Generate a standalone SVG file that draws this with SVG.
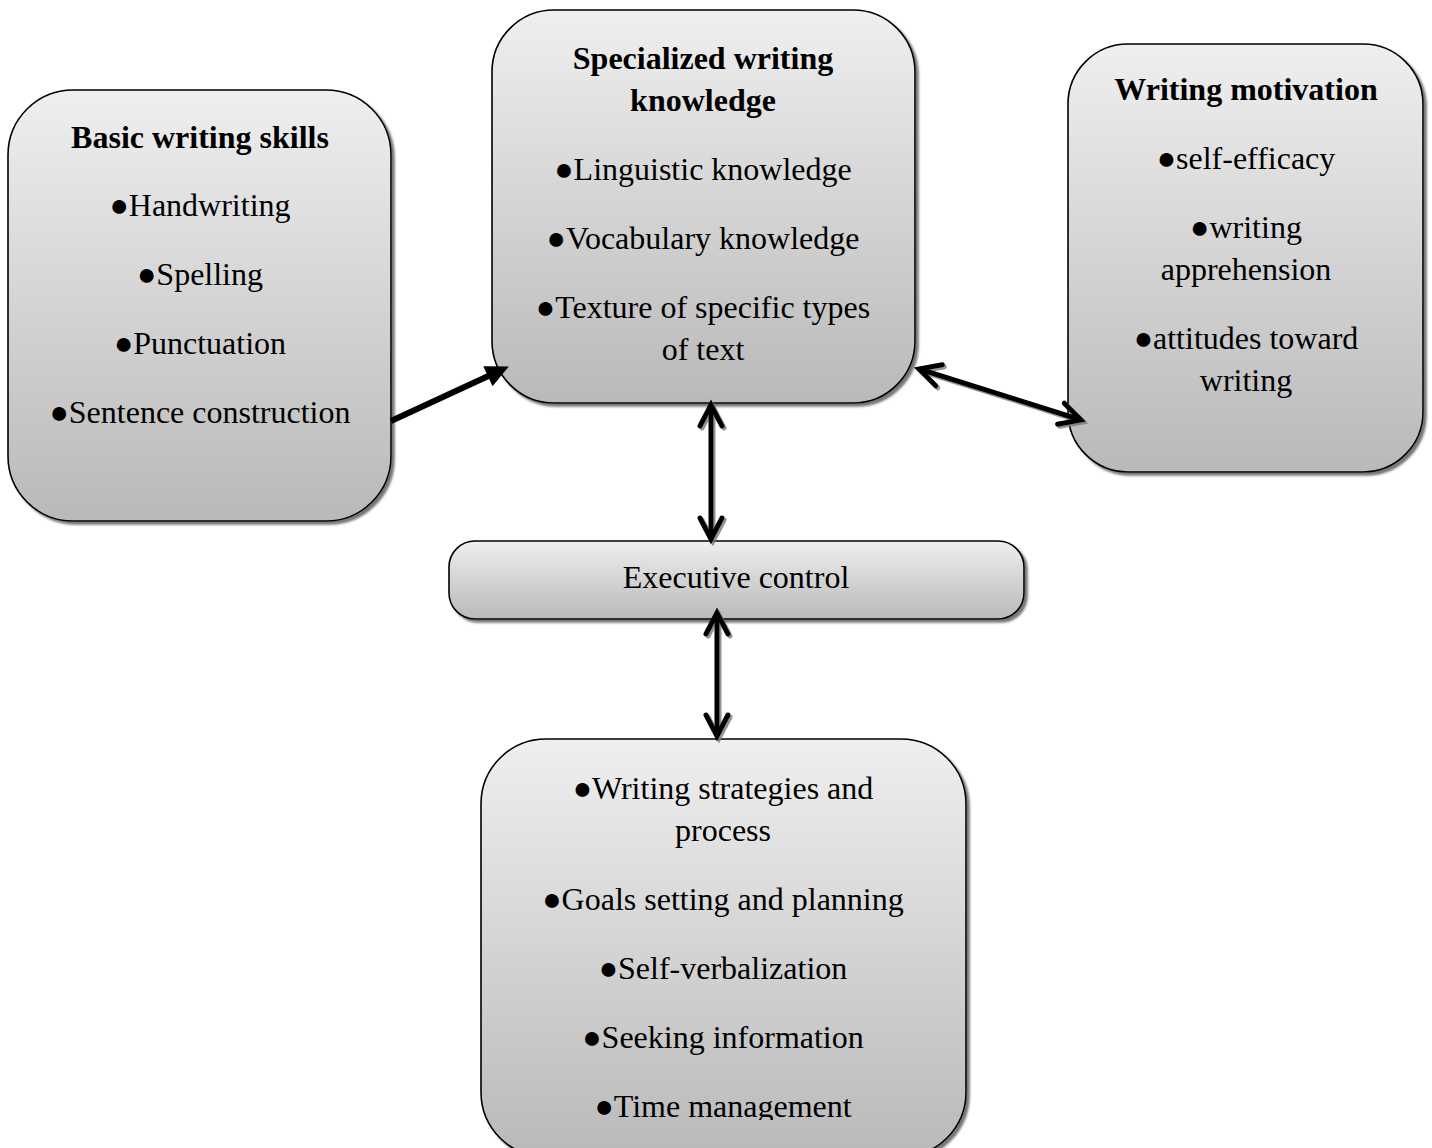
<svg xmlns="http://www.w3.org/2000/svg" width="1432" height="1148" viewBox="0 0 1432 1148">
<style>
.box{fill:url(#g);stroke:#000;stroke-width:1.6;filter:url(#sh)}
text{font-family:"Liberation Serif","Times New Roman",serif;font-size:32px;fill:#000;text-anchor:middle}
.t{font-weight:bold}
.con{stroke:#000;stroke-width:5;fill:none}
.shd{filter:url(#ash)}
</style>
<defs>
<linearGradient id="g" x1="0" y1="0" x2="0" y2="1">
<stop offset="0" stop-color="#efefef"/>
<stop offset="1" stop-color="#b9b9b9"/>
</linearGradient>
<filter id="sh" x="-5%" y="-5%" width="115%" height="115%">
<feDropShadow dx="3" dy="3" stdDeviation="0.8" flood-color="#555" flood-opacity="0.8"/>
</filter>
<filter id="ash" filterUnits="userSpaceOnUse" x="0" y="0" width="1432" height="1148">
<feDropShadow dx="2" dy="2" stdDeviation="0.6" flood-color="#777" flood-opacity="0.8"/>
</filter>
<marker id="ch" markerUnits="userSpaceOnUse" viewBox="-30 -15 40 30" markerWidth="40" markerHeight="30" refX="0" refY="0" orient="auto-start-reverse" overflow="visible">
<path d="M -21 -11 L 0 0 L -21 11" fill="none" stroke="#000" stroke-width="5" stroke-linecap="round"/>
</marker>
<marker id="tri" markerUnits="userSpaceOnUse" viewBox="-15 -15 30 30" markerWidth="30" markerHeight="30" refX="0" refY="0" orient="auto" overflow="visible">
<path d="M -10 -11 L 13 0 L -10 11 Z" fill="#000"/>
</marker>
<clipPath id="clipb"><rect x="0" y="0" width="1432" height="1120"/></clipPath>
</defs>

<g id="basic-writing-skills">
<rect class="box" x="8" y="90" width="383" height="431" rx="65" ry="65"/>
<text class="t" x="200" y="148">Basic writing skills</text>
<text x="200" y="216">●Handwriting</text>
<text x="200" y="285">●Spelling</text>
<text x="200" y="354">●Punctuation</text>
<text x="200" y="423">●Sentence construction</text>
</g>

<g id="specialized-writing-knowledge">
<rect class="box" x="492" y="10" width="423" height="393" rx="62" ry="62"/>
<text class="t" x="703" y="69">Specialized writing</text>
<text class="t" x="703" y="111">knowledge</text>
<text x="703" y="180">●Linguistic knowledge</text>
<text x="703" y="249">●Vocabulary knowledge</text>
<text x="703" y="318">●Texture of specific types</text>
<text x="703" y="360">of text</text>
</g>

<g id="writing-motivation">
<rect class="box" x="1068" y="44" width="355" height="428" rx="60" ry="60"/>
<text class="t" x="1246" y="100">Writing motivation</text>
<text x="1246" y="169">●self-efficacy</text>
<text x="1246" y="238">●writing</text>
<text x="1246" y="280">apprehension</text>
<text x="1246" y="349">●attitudes toward</text>
<text x="1246" y="391">writing</text>
</g>

<g id="executive-control">
<rect class="box" x="449" y="541" width="575" height="78" rx="26" ry="26"/>
<text x="736" y="588">Executive control</text>
</g>

<g id="strategies">
<rect class="box" x="481" y="739" width="485" height="418" rx="65" ry="65"/>
<text x="723" y="799">●Writing strategies and</text>
<text x="723" y="841">process</text>
<text x="723" y="910">●Goals setting and planning</text>
<text x="723" y="979">●Self-verbalization</text>
<text x="723" y="1048">●Seeking information</text>
<text x="723" y="1117" clip-path="url(#clipb)">●Time management</text>
</g>

<g id="connectors">
<path class="con" style="stroke-width:6" d="M 391 421 L 497 372" marker-end="url(#tri)"/>
<path class="con shd" d="M 711 405 L 711 539" marker-start="url(#ch)" marker-end="url(#ch)"/>
<path class="con shd" d="M 717 613 L 717 736" marker-start="url(#ch)" marker-end="url(#ch)"/>
<path class="con shd" d="M 919 369 L 1081 420" marker-start="url(#ch)" marker-end="url(#ch)"/>
</g>
</svg>
